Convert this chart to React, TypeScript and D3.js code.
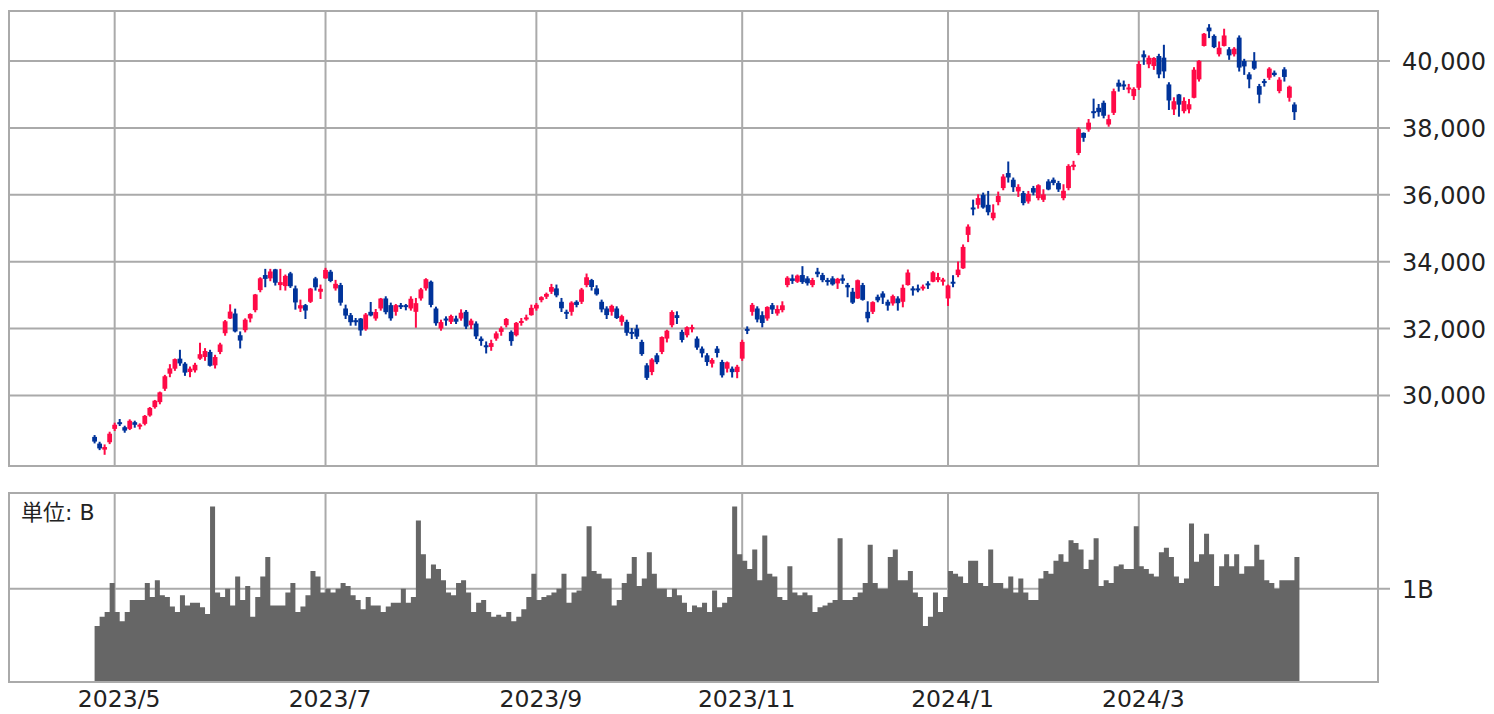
import React from 'react'
import * as d3 from 'd3'

const [W, H] = [1494, 714]
const main = { left: 9, right: 1378, top: 11, bottom: 466 }
const vol = { top: 493, bottom: 682 }
const UP = '#ff0a47'
const DOWN = '#00339a'
const GRID = '#aaaaaa'
const FONT = '"DejaVu Sans", "Noto Sans CJK JP", sans-serif'

const dates = [
  '2023-04-25', '2023-04-26', '2023-04-27', '2023-04-28',
  '2023-05-01', '2023-05-02', '2023-05-08', '2023-05-09', '2023-05-10', '2023-05-11', '2023-05-12', '2023-05-15', '2023-05-16', '2023-05-17',
  '2023-05-18', '2023-05-19', '2023-05-22', '2023-05-23', '2023-05-24', '2023-05-25', '2023-05-26', '2023-05-29', '2023-05-30', '2023-05-31',
  '2023-06-01', '2023-06-02', '2023-06-05', '2023-06-06', '2023-06-07', '2023-06-08', '2023-06-09', '2023-06-12', '2023-06-13', '2023-06-14', '2023-06-15',
  '2023-06-16', '2023-06-19', '2023-06-20', '2023-06-21', '2023-06-22', '2023-06-23', '2023-06-26', '2023-06-27', '2023-06-28', '2023-06-29', '2023-06-30',
  '2023-07-03', '2023-07-04', '2023-07-05', '2023-07-06', '2023-07-07', '2023-07-10', '2023-07-11', '2023-07-12', '2023-07-13', '2023-07-14',
  '2023-07-18', '2023-07-19', '2023-07-20', '2023-07-21', '2023-07-24', '2023-07-25', '2023-07-26', '2023-07-27', '2023-07-28', '2023-07-31',
  '2023-08-01', '2023-08-02', '2023-08-03', '2023-08-04', '2023-08-07', '2023-08-08', '2023-08-09', '2023-08-10', '2023-08-14', '2023-08-15', '2023-08-16',
  '2023-08-17', '2023-08-18', '2023-08-21', '2023-08-22', '2023-08-23', '2023-08-24', '2023-08-25', '2023-08-28', '2023-08-29', '2023-08-30', '2023-08-31',
  '2023-09-01', '2023-09-04', '2023-09-05', '2023-09-06', '2023-09-07', '2023-09-08', '2023-09-11', '2023-09-12', '2023-09-13', '2023-09-14',
  '2023-09-15', '2023-09-19', '2023-09-20', '2023-09-21', '2023-09-22', '2023-09-25', '2023-09-26', '2023-09-27', '2023-09-28', '2023-09-29',
  '2023-10-02', '2023-10-03', '2023-10-04', '2023-10-05', '2023-10-06', '2023-10-10', '2023-10-11', '2023-10-12', '2023-10-13', '2023-10-16', '2023-10-17',
  '2023-10-18', '2023-10-19', '2023-10-20', '2023-10-23', '2023-10-24', '2023-10-25', '2023-10-26', '2023-10-27', '2023-10-30', '2023-10-31',
  '2023-11-01', '2023-11-02', '2023-11-06', '2023-11-07', '2023-11-08', '2023-11-09', '2023-11-10', '2023-11-13', '2023-11-14', '2023-11-15',
  '2023-11-16', '2023-11-17', '2023-11-20', '2023-11-21', '2023-11-22', '2023-11-24', '2023-11-27', '2023-11-28', '2023-11-29', '2023-11-30',
  '2023-12-01', '2023-12-04', '2023-12-05', '2023-12-06', '2023-12-07', '2023-12-08', '2023-12-11', '2023-12-12', '2023-12-13', '2023-12-14', '2023-12-15',
  '2023-12-18', '2023-12-19', '2023-12-20', '2023-12-21', '2023-12-22', '2023-12-25', '2023-12-26', '2023-12-27', '2023-12-28', '2023-12-29',
  '2024-01-04', '2024-01-05', '2024-01-09', '2024-01-10', '2024-01-11', '2024-01-12', '2024-01-15', '2024-01-16', '2024-01-17', '2024-01-18',
  '2024-01-19', '2024-01-22', '2024-01-23', '2024-01-24', '2024-01-25', '2024-01-26', '2024-01-29', '2024-01-30', '2024-01-31',
  '2024-02-01', '2024-02-02', '2024-02-05', '2024-02-06', '2024-02-07', '2024-02-08', '2024-02-09', '2024-02-13', '2024-02-14', '2024-02-15',
  '2024-02-16', '2024-02-19', '2024-02-20', '2024-02-21', '2024-02-22', '2024-02-26', '2024-02-27', '2024-02-28', '2024-02-29',
  '2024-03-01', '2024-03-04', '2024-03-05', '2024-03-06', '2024-03-07', '2024-03-08', '2024-03-11', '2024-03-12', '2024-03-13', '2024-03-14',
  '2024-03-15', '2024-03-18', '2024-03-19', '2024-03-21', '2024-03-22', '2024-03-25', '2024-03-26', '2024-03-27', '2024-03-28', '2024-03-29',
  '2024-04-01', '2024-04-02', '2024-04-03', '2024-04-04', '2024-04-05', '2024-04-08', '2024-04-09', '2024-04-10', '2024-04-11', '2024-04-12',
  '2024-04-15', '2024-04-16',
]

const opens = [
  28760, 28560, 28380, 28600,
  29000, 29200, 29050, 29000, 29200, 29110, 29150, 29400, 29650, 29800, 30200, 30650, 30800, 31100, 30950, 30700, 30750, 31100, 31150, 31300,
  30900, 31300, 31860, 32300, 32450, 31800, 31950, 32300, 32550, 33150, 33600, 33500, 33770, 33300, 33270, 33650, 33200, 32600, 32700, 32800, 33500, 33100,
  33500, 33700, 33200, 33300, 32600, 32400, 32250, 32300, 31980, 32500, 32300, 32600, 32900, 32700, 32500, 32700, 32700, 32600, 32500, 32900,
  33200, 33400, 32600, 32000, 32300, 32200, 32300, 32300, 32500, 32100, 32150, 31700, 31500, 31450, 31700, 31900, 32100, 31900, 31800, 32200, 32300, 32400,
  32600, 32850, 32950, 33100, 33200, 32800, 32500, 32500, 32800, 32800, 33300, 33450, 33200, 32800, 32600, 32500, 32600, 32200, 32200, 31900,
  32000, 31600, 30900, 30700, 31200, 31300, 31700, 32100, 32400, 31900, 31800, 32000, 31700, 31400, 31200, 30950, 31400, 31000, 30800, 30800, 30700,
  31100, 31990, 32500, 32600, 32400, 32300, 32700, 32450, 32550, 33300, 33500, 33400, 33600, 33500, 33300, 33700, 33600, 33450, 33500, 33350,
  33500, 33300, 33100, 32900, 33300, 32500, 32500, 32950, 33050, 32800, 32750, 32900, 32800, 33300, 33200, 33200, 33200, 33350, 33400, 33450, 33400,
  32900, 33400, 33600, 33800, 34800, 35620, 35700, 36000, 35700, 35300, 35780, 36200, 36650, 36450, 36100, 36050, 35800, 36200, 35900,
  35850, 36400, 36450, 36350, 35900, 36200, 36850, 37250, 37850, 37950, 38500, 38600, 38750, 38100, 38450, 39350, 39300, 39150, 38950,
  39200, 40200, 39900, 39850, 40150, 40100, 39300, 38550, 39000, 38500, 38550, 38900, 39450, 40450, 41000, 40750, 40200, 40450, 40350, 40200,
  40700, 40000, 39600, 40000, 39250, 39400, 39500, 39650, 39100, 39750, 38900, 38700,
]

const highs = [
  28800, 28600, 28520, 28900,
  29170, 29280, 29080, 29270, 29230, 29150, 29400, 29640, 29850, 30100, 30600, 30920, 31090, 31350, 30980, 30850, 30960, 31560, 31400, 31350,
  31200, 31560, 32240, 32710, 32580, 31900, 32290, 32440, 33020, 33520, 33770, 33770, 33770, 33770, 33600, 33680, 33270, 32850, 32720, 33200, 33530, 33300,
  33800, 33740, 33440, 33350, 32700, 32450, 32300, 32300, 32450, 32780, 32570, 32900, 32950, 32760, 32720, 32750, 32720, 32950, 32900, 33200,
  33490, 33420, 32640, 32250, 32350, 32400, 32370, 32560, 32540, 32280, 32200, 31750, 31600, 31650, 31900, 32050, 32300, 31930, 32180, 32300, 32400, 32700,
  32750, 32950, 33060, 33320, 33300, 32900, 32550, 32800, 32830, 33200, 33630, 33470, 33280, 32850, 32650, 32700, 32650, 32400, 32250, 32000,
  32100, 31650, 30950, 31100, 31250, 31750, 31950, 32530, 32500, 31950, 32050, 32100, 31750, 31450, 31250, 31100, 31460, 31050, 31000, 30850, 30900,
  31650, 32050, 32750, 32650, 32500, 32650, 32750, 32680, 32800, 33550, 33600, 33600, 33850, 33550, 33500, 33800, 33650, 33500, 33550, 33500,
  33600, 33350, 33200, 33450, 33350, 32800, 32800, 33000, 33100, 32850, 33000, 32950, 33300, 33750, 33250, 33300, 33300, 33400, 33700, 33650, 33500,
  33300, 33580, 33990, 34500, 35100, 35840, 36000, 36050, 36100, 35700, 36080, 36600, 36980, 36500, 36300, 36100, 36100, 36250, 36300,
  36150, 36450, 36500, 36400, 36300, 36900, 37000, 38000, 37850, 38250, 38860, 38700, 38800, 38380, 39160, 39430, 39400, 39300, 39200,
  39990, 40300, 40150, 40100, 40200, 40470, 39350, 38900, 39000, 38900, 38850, 39800, 40010, 40820, 41087, 40780, 40570, 40950, 40400, 40400,
  40750, 40050, 39650, 40250, 39300, 39450, 39800, 39700, 39500, 39800, 39250, 38750,
]

const lows = [
  28580, 28380, 28240, 28560,
  28950, 29100, 28900, 28980, 29050, 29000, 29120, 29380, 29620, 29750, 30150, 30560, 30750, 30900, 30600, 30560, 30700, 31080, 31050, 30880,
  30820, 31250, 31800, 32300, 31900, 31420, 31900, 32200, 32500, 33100, 33250, 33430, 33300, 33160, 33150, 33230, 32580, 32510, 32300, 32780, 33150, 32900,
  33500, 33400, 33150, 32700, 32300, 32100, 32100, 31800, 31950, 32380, 32250, 32550, 32440, 32250, 32400, 32600, 32560, 32550, 32040, 32850,
  33150, 32650, 32100, 31950, 32100, 32150, 32150, 32250, 32000, 32000, 31700, 31500, 31270, 31350, 31650, 31800, 32050, 31500, 31780, 32100, 32250, 32400,
  32550, 32800, 32900, 33050, 32950, 32510, 32300, 32400, 32650, 32750, 33250, 33150, 33000, 32500, 32300, 32400, 32300, 32100, 31800, 31700,
  31700, 31200, 30480, 30620, 30950, 31250, 31600, 32050, 32150, 31600, 31750, 31900, 31380, 31150, 30900, 30850, 31150, 30550, 30700, 30550, 30530,
  31050, 31850, 32400, 32200, 32050, 32250, 32450, 32400, 32500, 33250, 33350, 33380, 33350, 33300, 33250, 33550, 33400, 33300, 33300, 33200,
  33350, 32950, 32750, 32900, 32850, 32200, 32450, 32800, 32750, 32550, 32700, 32550, 32650, 33300, 33000, 33100, 33150, 33200, 33400, 33400, 33300,
  32690, 33250, 33550, 33800, 34600, 35400, 35600, 35600, 35400, 35250, 35700, 36150, 36380, 36100, 35950, 35700, 35750, 36000, 35850,
  35800, 36150, 36300, 36100, 35850, 36150, 36750, 37200, 37600, 37900, 38300, 38350, 38300, 38050, 38400, 39100, 39150, 39050, 38850,
  39150, 39900, 39800, 39750, 39500, 39500, 38550, 38400, 38350, 38450, 38450, 38900, 39400, 40450, 40700, 40400, 40150, 40450, 40050, 40150,
  39700, 39600, 39200, 39750, 38750, 39250, 39450, 39550, 39050, 39400, 38800, 38250,
]

const closes = [
  28620, 28416, 28457, 28856,
  29123, 29157, 28949, 29242, 29122, 29126, 29388, 29626, 29842, 30093, 30573, 30808, 31086, 30957, 30682, 30801, 30916, 31233, 31328, 30887,
  31148, 31524, 32217, 32506, 31913, 31641, 32265, 32434, 33018, 33502, 33485, 33706, 33370, 33388, 33575, 33264, 32781, 32698, 32538, 33193, 33234, 33189,
  33753, 33422, 33338, 32773, 32388, 32189, 32203, 31943, 32419, 32391, 32493, 32896, 32490, 32304, 32700, 32682, 32668, 32891, 32759, 33172,
  33476, 32707, 32159, 32193, 32254, 32377, 32204, 32473, 32059, 32238, 31766, 31626, 31450, 31565, 31856, 32010, 32287, 31624, 32169, 32226, 32333, 32619,
  32710, 32939, 33036, 33241, 32991, 32606, 32467, 32776, 32706, 33168, 33533, 33242, 33023, 32571, 32402, 32678, 32315, 32371, 31872, 31857,
  31759, 31237, 30526, 31075, 30994, 31746, 31936, 32494, 32315, 31659, 32040, 32042, 31430, 31259, 30999, 31062, 31269, 30601, 30991, 30696, 30858,
  31601, 31949, 32708, 32271, 32166, 32646, 32568, 32585, 32695, 33519, 33424, 33585, 33388, 33354, 33451, 33625, 33447, 33408, 33321, 33486,
  33431, 33231, 32775, 33445, 32858, 32307, 32791, 32843, 32926, 32686, 32970, 32758, 33219, 33675, 33140, 33169, 33254, 33305, 33681, 33539, 33464,
  33288, 33377, 33763, 34441, 35049, 35577, 35901, 35619, 35477, 35466, 35963, 36546, 36517, 36226, 36236, 35751, 36026, 36065, 36286,
  36011, 36158, 36354, 36160, 36119, 36863, 36897, 37963, 37703, 38157, 38487, 38470, 38363, 38262, 39098, 39233, 39239, 39208, 39166,
  39910, 40109, 40097, 40090, 39598, 39688, 38820, 38797, 38695, 38807, 38707, 39740, 40004, 40816, 40888, 40414, 40398, 40763, 40168, 40369,
  39803, 39838, 39451, 39773, 38992, 39347, 39773, 39581, 39442, 39523, 39232, 38471,
]

// volume, billions of shares
const volumes = [
  0.60, 0.70, 0.75, 1.06, 0.75, 0.65, 0.75, 0.88, 0.88, 0.88, 1.06, 0.91, 1.09, 0.93, 0.91, 0.81, 0.75, 0.93, 0.82, 0.85,
  0.85, 0.80, 0.73, 1.88, 0.96, 0.91, 1.00, 0.82, 1.13, 0.88, 1.03, 0.70, 0.91, 1.13, 1.34, 0.82, 0.82, 0.82, 0.96, 1.06,
  0.75, 0.81, 0.93, 1.19, 1.13, 0.96, 1.00, 0.96, 1.00, 1.06, 1.03, 0.93, 0.88, 0.78, 0.91, 0.82, 0.82, 0.75, 0.81, 0.85,
  0.85, 1.00, 0.85, 0.91, 1.73, 1.37, 1.11, 1.26, 1.21, 1.09, 0.96, 0.93, 1.06, 1.09, 0.96, 0.75, 0.85, 0.88, 0.75, 0.70,
  0.72, 0.70, 0.75, 0.65, 0.70, 0.78, 0.91, 1.16, 0.88, 0.91, 0.93, 0.96, 1.00, 1.16, 0.85, 0.96, 0.98, 1.13, 1.67, 1.19,
  1.16, 1.11, 1.11, 0.82, 0.88, 1.06, 1.16, 1.34, 1.03, 1.11, 1.39, 1.16, 1.00, 1.00, 0.91, 1.00, 0.93, 0.85, 0.75, 0.82,
  0.80, 0.85, 0.75, 0.98, 0.80, 0.85, 0.91, 1.88, 1.37, 1.30, 1.21, 1.42, 1.09, 1.57, 1.16, 1.13, 0.91, 0.88, 1.24, 0.96,
  0.93, 0.96, 0.93, 0.75, 0.80, 0.82, 0.85, 0.88, 1.54, 0.88, 0.88, 0.91, 0.96, 1.06, 1.47, 1.06, 1.00, 1.00, 1.34, 1.42,
  1.09, 1.09, 1.19, 0.96, 0.91, 0.60, 0.70, 0.96, 0.75, 0.91, 1.19, 1.16, 1.13, 1.06, 1.30, 1.30, 1.06, 1.03, 1.42, 1.06,
  1.06, 1.00, 1.13, 0.96, 1.11, 0.96, 0.88, 0.88, 1.11, 1.19, 1.16, 1.30, 1.37, 1.29, 1.52, 1.49, 1.42, 1.21, 1.31, 1.54,
  1.03, 1.09, 1.06, 1.24, 1.26, 1.21, 1.21, 1.67, 1.24, 1.21, 1.16, 1.13, 1.39, 1.44, 1.34, 1.13, 1.06, 1.11, 1.70, 1.29,
  1.37, 1.59, 1.37, 1.03, 1.24, 1.37, 1.24, 1.37, 1.16, 1.24, 1.24, 1.47, 1.31, 1.09, 1.06, 1.00, 1.09, 1.09, 1.09, 1.34,
]

const priceTicks = [30000, 32000, 34000, 36000, 38000, 40000]
const volumeTicks = [1]

export default function App() {
  const x = d3.scaleLinear().domain([-17.05, 255.65]).range([main.left, main.right])
  const y = d3.scaleLinear().domain([27890, 41495]).range([main.bottom, main.top])
  const yv = d3.scaleLinear().domain([0, 2.026]).range([vol.bottom, vol.top])
  const step = x(1) - x(0)
  const fmt = d3.format(',')

  const parsed = dates.map(d => d3.timeParse('%Y-%m-%d')(d) as Date)
  const monthStarts = parsed
    .map((d, i) => ({ d, i }))
    .filter(({ d, i }) => i > 0 && d.getMonth() !== parsed[i - 1].getMonth() && d.getMonth() % 2 === 0)

  const candles = dates.map((_, i) => {
    const o = opens[i], c = closes[i]
    const color = c >= o ? UP : DOWN
    const cx = x(i)
    const top = y(Math.max(o, c))
    const h = Math.max(2, y(Math.min(o, c)) - top)
    return (
      <g key={i}>
        <line x1={cx} x2={cx} y1={y(highs[i]) - 0.5} y2={y(lows[i]) + 0.5} stroke={color} strokeWidth={2} />
        <rect x={cx - 2.4} y={top} width={4.8} height={h} fill={color} />
      </g>
    )
  })

  // one stepped area for the volume bars, so neighbouring bars leave no seams
  const volumeArea = d3.area<number>()
    .x((_, i) => (i < volumes.length ? x(i) : x(volumes.length - 1) + step))
    .y0(vol.bottom)
    .y1(v => yv(v))
    .curve(d3.curveStepAfter)
  const volumePath = volumeArea([...volumes, volumes[volumes.length - 1]]) ?? ''

  return (
    <div style={{ position: 'absolute', left: 0, top: 0 }}>
      <svg width={W} height={H} style={{ display: 'block', fontFamily: FONT }}>
        <rect width={W} height={H} fill="#ffffff" />
        {/* price panel grid */}
        {priceTicks.map(t => (
          <g key={t}>
            <line x1={main.left} x2={main.right + 12} y1={y(t)} y2={y(t)} stroke={GRID} strokeWidth={2} />
            <text x={1402} y={y(t) + 9} fontSize={24} fill="#222">{fmt(t)}</text>
          </g>
        ))}
        {monthStarts.map(({ i }) => (
          <line key={i} x1={x(i)} x2={x(i)} y1={main.top} y2={main.bottom} stroke={GRID} strokeWidth={2} />
        ))}
        <rect x={main.left} y={main.top} width={main.right - main.left} height={main.bottom - main.top}
          fill="none" stroke={GRID} strokeWidth={2} />
        {candles}

        {/* volume panel */}
        {volumeTicks.map(t => (
          <g key={t}>
            <line x1={main.left} x2={main.right + 12} y1={yv(t)} y2={yv(t)} stroke={GRID} strokeWidth={2} />
            <text x={1402} y={yv(t) + 9} fontSize={24} fill="#222">{t}B</text>
          </g>
        ))}
        {monthStarts.map(({ i }) => (
          <line key={i} x1={x(i)} x2={x(i)} y1={vol.top} y2={vol.bottom} stroke={GRID} strokeWidth={2} />
        ))}
        <path d={volumePath} fill="#666666" />
        <rect x={main.left} y={vol.top} width={main.right - main.left} height={vol.bottom - vol.top}
          fill="none" stroke={GRID} strokeWidth={2} />
        <text x={21} y={520} fontSize={22} fill="#222">単位: B</text>

        {monthStarts.map(({ d, i }) => (
          <text key={i} x={x(i) + 4.5} y={707} fontSize={23.5} fill="#222" textAnchor="middle">
            {`${d.getFullYear()}/${d.getMonth() + 1}`}
          </text>
        ))}
      </svg>
    </div>
  )
}
